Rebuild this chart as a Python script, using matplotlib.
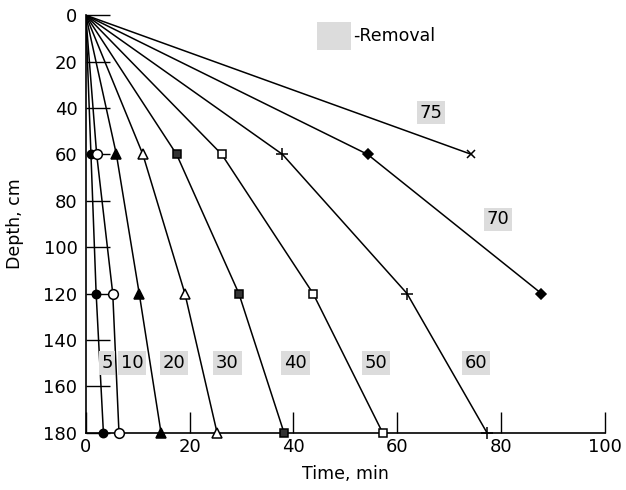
import numpy as np
import matplotlib.pyplot as plt

# depth of sampling ports, cm
depths = [0, 60, 120, 180]

# time (min) at which each removal fraction is reached at each depth
t5 = [0, 1.0, 2.0, 3.4]
t10 = [0, 2.1, 5.2, 6.4]
t20 = [0, 5.9, 10.3, 14.5]
t30 = [0, 11.0, 19.1, 25.3]
t40 = [0, 17.5, 29.5, 38.2]
t50 = [0, 26.2, 43.8, 57.2]
t60 = [0, 37.9, 61.9, 77.3]
t70 = [0, 54.3, 87.8]
t75 = [0, 74.3]

removal_labels = ['5', '10', '20', '30', '40', '50', '60', '70', '75']
label_x = [4.1, 8.9, 17.0, 27.3, 40.4, 55.9, 75.2, 79.5, 66.5]
label_y = [150, 150, 150, 150, 150, 150, 150, 88, 42]

x_ticks = [0, 20, 40, 60, 80, 100]
y_ticks = [0, 20, 40, 60, 80, 100, 120, 140, 160, 180]

series = [t5, t10, t20, t30, t40, t50, t60, t70, t75]
# marker, face colour, size
styles = [('o', 'black', 6), ('o', 'white', 7), ('^', 'black', 6.5),
          ('^', 'white', 7.5), ('s', '#333333', 5.5), ('s', 'white', 6),
          ('+', 'black', 9), ('D', 'black', 5.5), ('x', 'black', 6)]

fig = plt.figure(figsize=(6.26, 4.9), dpi=100)
ax = fig.add_axes([0.137, 0.117, 0.829, 0.852])

for t, (m, fc, ms) in zip(series, styles):
    d = depths[:len(t)]
    ax.plot(t, d, color='black', lw=1.1, zorder=2)
    ax.plot(t[1:], d[1:], linestyle='none', marker=m, markersize=ms,
            markerfacecolor=fc, markeredgecolor='black', markeredgewidth=1.1,
            clip_on=False, zorder=3)

for lab, lx, ly in zip(removal_labels, label_x, label_y):
    ax.text(lx, ly, lab, fontsize=13, ha='center', va='center',
            bbox=dict(boxstyle='square,pad=0.15', facecolor='#dcdcdc',
                      edgecolor='none'))

# legend swatch
ax.text(47.8, 9, '\u2007\u2007', fontsize=13, ha='center', va='center',
        bbox=dict(boxstyle='square,pad=0.3', facecolor='#dcdcdc', edgecolor='none'))
ax.text(51.6, 9, '-Removal', fontsize=12.5, ha='left', va='center')

ax.set_xlim(0, 100)
ax.set_ylim(180, 0)
ax.set_xticks(x_ticks)
ax.set_yticks(y_ticks)
ax.tick_params(axis='both', direction='in', labelsize=13, width=1.0, colors='black')
ax.tick_params(axis='y', length=17, pad=6)
ax.tick_params(axis='x', length=15, pad=4)
ax.spines['top'].set_visible(False)
ax.spines['right'].set_visible(False)
ax.spines['left'].set_linewidth(1.2)
ax.spines['bottom'].set_linewidth(1.2)

ax.set_xlabel('Time, min', fontsize=12.5, labelpad=6)
ax.set_ylabel('Depth, cm', fontsize=12.5, labelpad=14)

fig.savefig('out.png', dpi=100)
